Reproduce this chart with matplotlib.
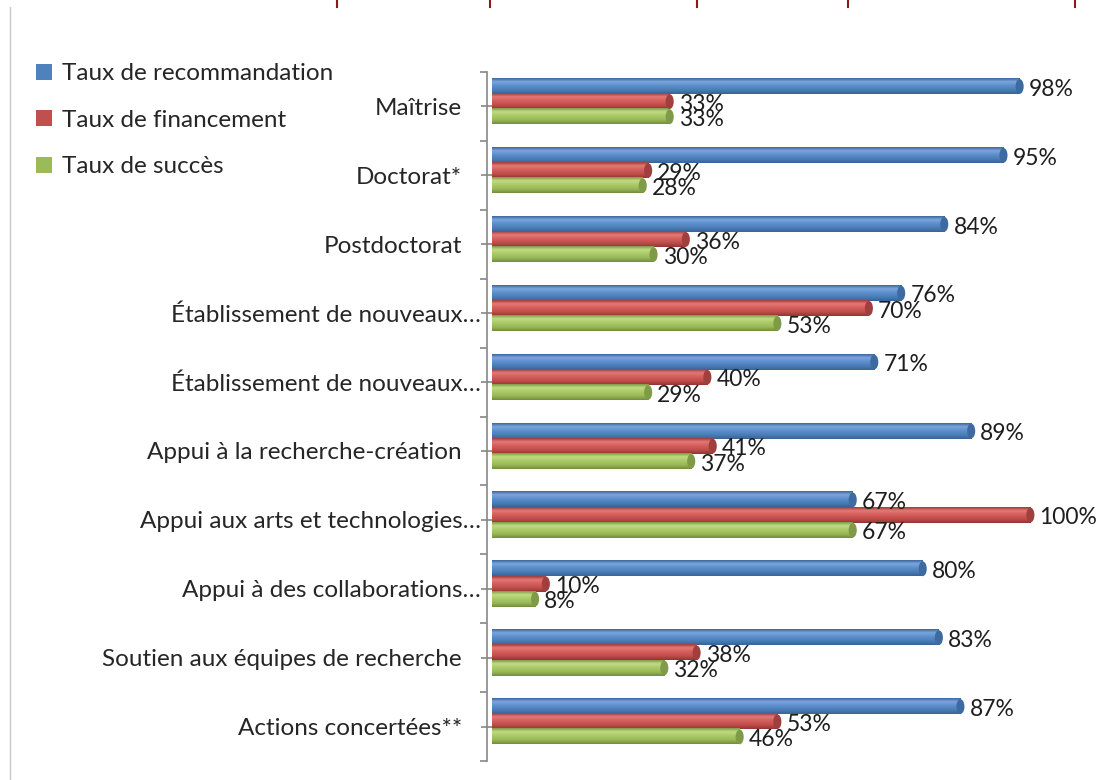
import matplotlib
matplotlib.use("Agg")
import matplotlib.pyplot as plt
import numpy as np
from matplotlib.colors import LinearSegmentedColormap
from matplotlib.patches import Ellipse, Patch
from matplotlib.lines import Line2D
from matplotlib.transforms import ScaledTranslation

plt.rcParams['font.family'] = ['Lato', 'DejaVu Sans']

categories = ["Maîtrise", "Doctorat*", "Postdoctorat",
              "Établissement de nouveaux…", "Établissement de nouveaux…",
              "Appui à la recherche-création", "Appui aux arts et technologies…",
              "Appui à des collaborations…", "Soutien aux équipes de recherche",
              "Actions concertées**"]
recommandation = [98, 95, 84, 76, 71, 89, 67, 80, 83, 87]
financement = [33, 29, 36, 70, 40, 41, 100, 10, 38, 53]
succes = [33, 28, 30, 53, 29, 37, 67, 8, 32, 46]
series_names = ["Taux de recommandation", "Taux de financement", "Taux de succès"]

# base colour + cylinder shading (top edge -> highlight -> body -> shadow)
colors = ["#4F81BD", "#C0504D", "#9BBB59"]
shades = [
    ["#3b679c", "#7aa6dc", "#5b8dcb", "#4a7cb8", "#3a6394"],
    ["#9c3c3a", "#e47876", "#d35c59", "#c04d4a", "#913533"],
    ["#7e9a44", "#c0dc82", "#a9c866", "#98b856", "#738c40"],
]
caps = ["#3e6aa2", "#a03f3d", "#7f9b47"]

W, H = 1097, 780
fig = plt.figure(figsize=(W / 100, H / 100), dpi=100)
ax = fig.add_axes([487 / W, 1 - 761 / H, (1095 - 487) / W, (761 - 72) / H])

h = 0.22
offsets = [-0.29, -0.07, 0.15]
ypos = np.arange(len(categories)) + 0.5
grad = np.linspace(0, 1, 64)[:, None]

for vals, off, sh, cap in zip([recommandation, financement, succes], offsets, shades, caps):
    cmap = LinearSegmentedColormap.from_list("c", list(zip([0, 0.22, 0.5, 0.75, 1.0], sh)))
    for y, v in zip(ypos + off, vals):
        ax.imshow(grad, cmap=cmap, aspect="auto", interpolation="bilinear",
                  extent=(0, v, y + h / 2, y - h / 2), zorder=2)
        ax.add_patch(Ellipse((v, y), 1.5, h * 0.97, facecolor=cap, edgecolor="none", zorder=3))
        ax.text(v + 1.7, y + 0.04, f"{v}%", va="center", ha="left", fontsize=16.5,
                color="#1e1e1e", zorder=4)

ax.set_xlim(-0.93, 112.0)
ax.set_ylim(len(categories), 0)
ax.set_xticks([])
ax.set_yticks(ypos, labels=categories, fontsize=17.5, color="#262626")
ax.set_yticks(np.arange(len(categories) + 1), minor=True)
ax.tick_params(axis="y", which="major", direction="inout", length=9, width=1.2,
               color="#868686", pad=13.5)
ax.tick_params(axis="y", which="minor", direction="out", length=5, width=1.2, color="#868686")
for s in ["top", "right", "bottom"]:
    ax.spines[s].set_visible(False)
ax.spines["left"].set_color("#868686")
ax.spines["left"].set_linewidth(1.2)

# truncated labels sit closer to the axis
shift = ScaledTranslation(19 / 100, 0, fig.dpi_scale_trans)
for lab in ax.get_yticklabels():
    if lab.get_text().endswith("…"):
        lab.set_transform(lab.get_transform() + shift)

handles = [Patch(facecolor=c, edgecolor="none") for c in colors]
fig.legend(handles, series_names, loc="upper left", bbox_to_anchor=(24 / W, 1 - 51 / H),
           frameon=False, fontsize=17.5, handlelength=0.65, handleheight=0.65, borderpad=0,
           handletextpad=0.4, labelspacing=1.05, labelcolor="#262626")

# page frame remnants
for x in [337, 490, 697, 848, 1075]:
    fig.add_artist(Line2D([x / W, x / W], [1, 1 - 7 / H], color="#8b1a1a", lw=1.5))
fig.add_artist(Line2D([10 / W, 10 / W], [1 - 7 / H, 0], color="#c8c8c8", lw=1))

fig.savefig("out.png", dpi=100)
